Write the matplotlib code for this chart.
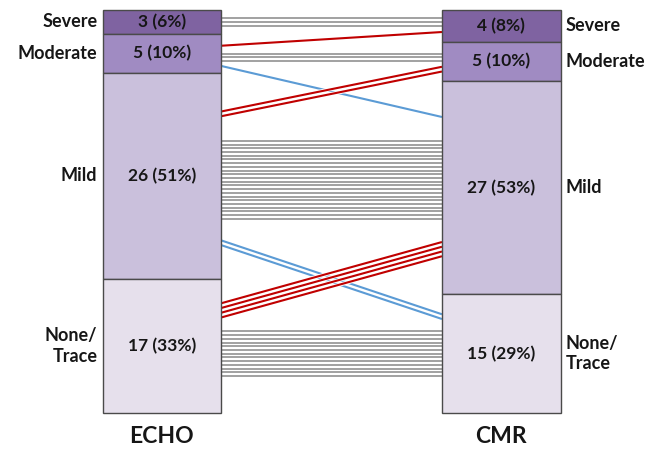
import matplotlib

matplotlib.use("Agg")

import matplotlib.pyplot as plt
import matplotlib.patheffects as pe
from matplotlib.patches import Rectangle

# data
categories = ["Severe", "Moderate", "Mild", "None/\nTrace"]  # top to bottom
methods = ["ECHO", "CMR"]
echo_counts = [3, 5, 26, 17]
cmr_counts = [4, 5, 27, 15]
echo_pct = [6, 10, 51, 33]
cmr_pct = [8, 10, 53, 29]
# patients moving from ECHO grade (row) to CMR grade (column)
flows = [
    [3, 0, 0, 0],
    [1, 3, 1, 0],
    [0, 2, 22, 2],
    [0, 0, 4, 13],
]

FILLS = ["#7f63a1", "#a08bc2", "#cac0dc", "#e6e0ec"]
SAME = "#9a9a9a"
UP = "#c00000"
DOWN = "#5b9bd5"
INK = "#161616"
FONT = ["Lato", "DejaVu Sans"]

BAR_W = 0.35
PITCH = 0.47
CROSS_PITCH = 0.6
CROSS_FRAC = 0.4  # how far crossing lines sit between gray block and bar edge


def segments(counts):
    total = sum(counts)
    top = total
    out = []
    for c in counts:
        out.append((top - c, top))
        top -= c
    return out


def spread(center, n, pitch):
    return [center + pitch * ((n - 1) / 2 - k) for k in range(n)]


fig = plt.figure(figsize=(6.46, 4.49), dpi=100, facecolor="white")
ax = fig.add_axes([0, 0, 1, 1])
ax.set_xlim(-0.477, 1.426)
ax.set_ylim(-4.56, 52.27)
ax.axis("off")

left = segments(echo_counts)
right = segments(cmr_counts)
x0 = BAR_W / 2
x1 = 1 - BAR_W / 2

# bars
for xc, segs, counts, pcts in [(0, left, echo_counts, echo_pct), (1, right, cmr_counts, cmr_pct)]:
    for i, (lo, hi) in enumerate(segs):
        ax.add_patch(Rectangle((xc - BAR_W / 2, lo), BAR_W, hi - lo, facecolor=FILLS[i],
                               edgecolor="#4a4a4a", linewidth=1.0, zorder=2))
        ax.text(xc, (lo + hi) / 2, f"{counts[i]} ({pcts[i]}%)", ha="center", va="center",
                fontsize=12.5, fontweight="bold", family=FONT, color=INK, zorder=3)

# gray blocks: patients with the same grade on both
gray_blocks = []
for i in range(len(categories)):
    lo = max(left[i][0], right[i][0])
    hi = min(left[i][1], right[i][1])
    ys = spread((lo + hi) / 2, flows[i][i], PITCH)
    gray_blocks.append((min(ys), max(ys)))
    for y in ys:
        ax.plot([x0, x1], [y, y], color=SAME, lw=1.3, solid_capstyle="butt", zorder=1,
                path_effects=[pe.Stroke(linewidth=2.4, foreground="white"), pe.Normal()])

# end positions for changing patients
left_pos = {}
right_pos = {}
for i in range(len(categories)):
    g_lo, g_hi = gray_blocks[i]
    # left side, ECHO grade i
    up = [j for j in range(len(categories)) if j < i for _ in range(flows[i][j])]
    down = [j for j in range(len(categories)) if j > i for _ in range(flows[i][j])]
    ys = spread(g_hi + CROSS_FRAC * (left[i][1] - g_hi), len(up), CROSS_PITCH)
    for j, y in zip(up, ys):
        left_pos.setdefault((i, j), []).append(y)
    ys = spread(g_lo - CROSS_FRAC * (g_lo - left[i][0]), len(down), CROSS_PITCH)
    for j, y in zip(down, ys):
        left_pos.setdefault((i, j), []).append(y)
    # right side, CMR grade i
    came_down = [k for k in range(len(categories)) if k < i for _ in range(flows[k][i])]
    came_up = [k for k in range(len(categories)) if k > i for _ in range(flows[k][i])]
    ys = spread(g_hi + CROSS_FRAC * (right[i][1] - g_hi), len(came_down), CROSS_PITCH)
    for k, y in zip(came_down, ys):
        right_pos.setdefault((k, i), []).append(y)
    ys = spread(g_lo - CROSS_FRAC * (g_lo - right[i][0]), len(came_up), CROSS_PITCH)
    for k, y in zip(came_up, ys):
        right_pos.setdefault((k, i), []).append(y)

for key, ys_l in left_pos.items():
    ys_r = right_pos[key]
    color = UP if key[1] < key[0] else DOWN
    for yl, yr in zip(ys_l, ys_r):
        ax.plot([x0, x1], [yl, yr], color=color, lw=1.5, solid_capstyle="butt", zorder=1.5,
                path_effects=[pe.Stroke(linewidth=2.8, foreground="white"), pe.Normal()])

# grade labels
for i, name in enumerate(categories):
    ax.text(x0 - BAR_W - 0.015, sum(left[i]) / 2, name, ha="right", va="center",
            fontsize=13, fontweight="bold", family=FONT, color=INK, linespacing=1.25)
    ax.text(x1 + BAR_W + 0.015, sum(right[i]) / 2, name, ha="left", va="center",
            fontsize=13, fontweight="bold", family=FONT, color=INK, linespacing=1.25)

for xc, name in enumerate(methods):
    ax.text(xc, -3.0, name, ha="center", va="center", fontsize=16.5, fontweight="bold",
            family=FONT, color=INK)

fig.savefig("out.png", dpi=100, facecolor="white")
